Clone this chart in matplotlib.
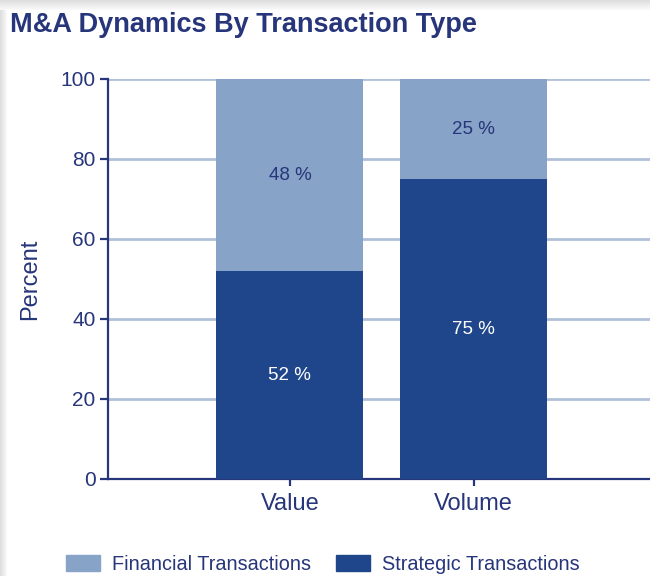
import numpy as np
import matplotlib.pyplot as plt
from matplotlib.patches import Patch, Rectangle

categories = ['Value', 'Volume']
strategic = [52, 75]
financial = [48, 25]

navy = '#27357a'
dark = '#1f468b'
light = '#87a3c7'
grid = '#b0c0d8'

plt.rcParams['font.family'] = ['Liberation Sans', 'DejaVu Sans']

fig = plt.figure(figsize=(6.5, 5.76), dpi=100)
ax = fig.add_axes([108/650, 1 - 479/576, (650 - 108)/650, 400/576])

x = np.arange(len(categories))
ax.bar(x, strategic, width=0.8, color=dark, zorder=3)
ax.bar(x, financial, width=0.8, bottom=strategic, color=light, zorder=3)

for i in range(len(categories)):
    ax.text(x[i], strategic[i] / 2, f'{strategic[i]} %', ha='center', va='center',
            color='white', fontsize=13.5, zorder=4)
    ax.text(x[i], strategic[i] + financial[i] / 2, f'{financial[i]} %', ha='center',
            va='center', color=navy, fontsize=13.5, zorder=4)

ax.set_xlim(-0.99, 1.96)
ax.set_ylim(0, 100)
ax.set_yticks([0, 20, 40, 60, 80, 100])
ax.set_xticks(x)
ax.set_xticklabels(categories)
ax.yaxis.grid(True, color=grid, linewidth=2, zorder=0)
ax.set_axisbelow(True)
for s in ['top', 'right']:
    ax.spines[s].set_visible(False)
for s in ['left', 'bottom']:
    ax.spines[s].set_color(navy)
    ax.spines[s].set_linewidth(1.6)
ax.tick_params(axis='y', colors=navy, labelsize=15, length=6, width=1.6, pad=3)
ax.tick_params(axis='x', colors=navy, labelsize=17, length=5, width=1.6, pad=5)
ax.set_ylabel('Percent', color=navy, fontsize=17, labelpad=14)

fig.text(10/650, 1 - 25/576, 'M&A Dynamics By Transaction Type', color=navy,
         fontsize=19.5, fontweight='bold', va='center', ha='left')

handles = [Patch(color=light, label='Financial Transactions'),
           Patch(color=dark, label='Strategic Transactions')]
fig.legend(handles=handles, ncol=2, loc='center left', frameon=False,
           bbox_to_anchor=(48/650, 1 - 564/576), fontsize=14.3, labelcolor=navy,
           handlelength=1.7, handleheight=0.85, handletextpad=0.6,
           columnspacing=1.3)

# grey shadow border along top and left
for k in range(10):
    c = 0.87 + 0.012 * k
    fig.add_artist(Rectangle((0, 1 - (k + 1)/576), 1, 1/576, transform=fig.transFigure,
                             color=(c, c, c), lw=0))
for k in range(7):
    c = 0.87 + 0.017 * k
    fig.add_artist(Rectangle((k/650, 0), 1/650, 1 - 10/576, transform=fig.transFigure,
                             color=(c, c, c), lw=0))

fig.savefig('out.png', dpi=100)
